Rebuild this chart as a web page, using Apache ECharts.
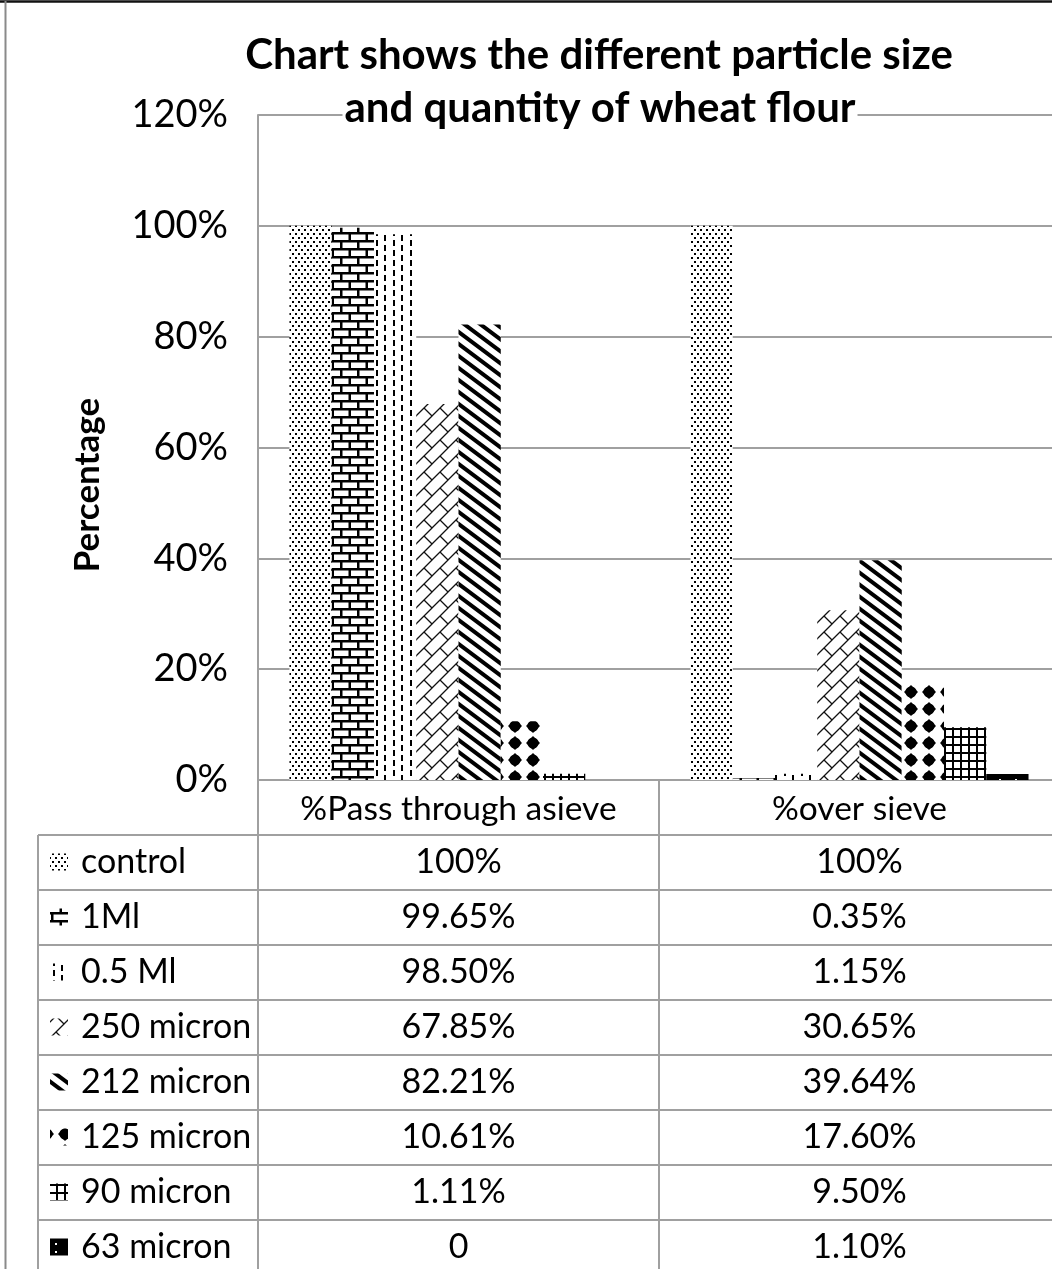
<!DOCTYPE html>
<html>
<head>
<meta charset="utf-8">
<script src="https://cdn.jsdelivr.net/npm/echarts@6/dist/echarts.min.js"></script>
<style>
  html, body { margin: 0; padding: 0; background: #fff; overflow: hidden; }
  #chart { width: 1060px; height: 1269px; }
</style>
</head>
<body>
<div id="chart"></div>
<script>
// ---- data ----
const categories = ['%Pass through asieve', '%over sieve'];
const seriesNames = ['control', '1Ml', '0.5 Ml', '250 micron', '212 micron', '125 micron', '90 micron', '63 micron'];
const passValues = [100, 99.65, 98.50, 67.85, 82.21, 10.61, 1.11, 0];
const overValues = [100, 0.35, 1.15, 30.65, 39.64, 17.60, 9.50, 1.10];
const yTicks = [0, 20, 40, 60, 80, 100, 120];
const titleLines = ['Chart shows the different particle size', 'and quantity of wheat flour'];
const yAxisTitle = 'Percentage';

// ---- layout (the chart area runs a little past the right edge of the page) ----
const FONT = 'Lato';
const CHART_W = 1060, CHART_H = 1269;
const GRID_LEFT = 258, GRID_TOP = 115, GRID_H = 665;
const GRID_W = CHART_W - GRID_LEFT;
const AXIS_Y = GRID_TOP + GRID_H;      // 0% baseline
const HEAD_H = 55, ROW_H = 55;
const TABLE_LEFT = 38;
const LINE_COLOR = '#a0a0a0';

// ---- black & white fill patterns ----
function tile(w, h, draw) {
  const c = document.createElement('canvas');
  c.width = w; c.height = h;
  const g = c.getContext('2d');
  g.fillStyle = '#fff'; g.fillRect(0, 0, w, h);
  g.fillStyle = '#000'; g.strokeStyle = '#000';
  draw(g, w, h);
  return { image: c, repeat: 'repeat' };
}
function diamond(g, cx, cy) {
  g.beginPath();
  g.moveTo(cx, cy - 7); g.lineTo(cx + 7, cy); g.lineTo(cx, cy + 7); g.lineTo(cx - 7, cy); g.closePath();
  g.fill();
  g.beginPath(); g.arc(cx, cy, 5.6, 0, Math.PI * 2); g.fill();
}
const patterns = [
  // dotted
  tile(12, 8, g => { g.fillRect(1, 1, 2, 2); g.fillRect(7, 1, 2, 2); g.fillRect(4, 5, 2, 2); g.fillRect(10, 5, 2, 2); }),
  // horizontal brick
  tile(17, 16, g => { g.fillRect(0, 0, 17, 2.5); g.fillRect(0, 8, 17, 2.5); g.fillRect(0, 0, 2.5, 8); g.fillRect(8.5, 8, 2.5, 8); }),
  // dashed vertical
  tile(17, 20, g => { g.fillRect(2, 0, 2, 6); g.fillRect(2, 10, 2, 6); g.fillRect(10, 5, 2, 6); g.fillRect(10, 15, 2, 5); g.fillRect(10, 0, 2, 1); }),
  // diagonal brick: long rising lines with short ties between them
  tile(16, 16, g => {
    g.lineWidth = 1.3; g.strokeStyle = '#111';
    g.beginPath();
    g.moveTo(-2, 18); g.lineTo(18, -2);
    g.moveTo(-2, 2); g.lineTo(2, -2);
    g.moveTo(14, 18); g.lineTo(18, 14);
    g.moveTo(8, 8); g.lineTo(16, 16);
    g.stroke();
  }),
  // wide downward diagonal
  tile(16, 12, g => {
    g.lineWidth = 4;
    g.beginPath();
    for (let k = -1; k <= 1; k++) { g.moveTo(k * 16 - 4, -3); g.lineTo(k * 16 + 20, 15); }
    g.stroke();
  }),
  // large diamonds
  tile(18, 17, g => {
    [[11, 12], [-7, 12], [11, -5], [-7, -5]].forEach(([x, y]) => diamond(g, x, y));
  }),
  // small grid
  tile(8, 8, g => { g.fillRect(0, 0, 8, 2); g.fillRect(0, 0, 2, 8); }),
  // solid with white dots
  tile(16, 8, g => { g.fillRect(0, 0, 16, 8); g.fillStyle = '#fff'; g.fillRect(7, 3, 2, 2); })
];

function fmt(v) {
  if (v === 0) return '0';
  if (v === 100) return '100%';
  return v.toFixed(2) + '%';
}

// ---- series ----
const series = seriesNames.map((name, i) => ({
  name,
  type: 'bar',
  data: [passValues[i], overValues[i]],
  barGap: '0%',
  barCategoryGap: '15.7%',
  itemStyle: { color: patterns[i] },
  emphasis: { disabled: true }
}));

// ---- data table under the axis ----
const graphics = [];
const lineStyle = { stroke: LINE_COLOR, lineWidth: 2 };
const tableTop = AXIS_Y + HEAD_H;
const tableBottom = CHART_H;
const colCenters = categories.map((c, j) => GRID_LEFT + GRID_W * (j + 0.5) / categories.length);

for (let r = 0; r <= seriesNames.length; r++) {
  const y = tableTop + r * ROW_H;
  graphics.push({ type: 'line', shape: { x1: TABLE_LEFT, y1: y, x2: CHART_W, y2: y }, style: lineStyle, silent: true });
}
graphics.push({ type: 'line', shape: { x1: TABLE_LEFT, y1: tableTop, x2: TABLE_LEFT, y2: tableBottom }, style: lineStyle, silent: true });
graphics.push({ type: 'line', shape: { x1: GRID_LEFT, y1: tableTop, x2: GRID_LEFT, y2: tableBottom }, style: lineStyle, silent: true });
graphics.push({ type: 'line', shape: { x1: GRID_LEFT + GRID_W / 2, y1: tableTop, x2: GRID_LEFT + GRID_W / 2, y2: tableBottom }, style: lineStyle, silent: true });

seriesNames.forEach((name, i) => {
  const cy = tableTop + i * ROW_H + ROW_H / 2;
  graphics.push({ type: 'rect', shape: { x: 50, y: cy - 9, width: 18, height: 17 }, style: { fill: patterns[i] }, silent: true });
  graphics.push({ type: 'text', x: 81, y: cy, style: { text: name, font: `34px ${FONT}`, fill: '#000', textVerticalAlign: 'middle', textAlign: 'left' }, silent: true });
  [passValues[i], overValues[i]].forEach((v, j) => {
    graphics.push({ type: 'text', x: colCenters[j], y: cy, style: { text: fmt(v), font: `34px ${FONT}`, fill: '#000', textVerticalAlign: 'middle', textAlign: 'center' }, silent: true });
  });
});

// title (second line sits on a white box over the top gridline)
graphics.push({ type: 'text', x: 599, y: 55, style: { text: titleLines[0], font: `bold 42px ${FONT}`, fill: '#000', textAlign: 'center', textVerticalAlign: 'middle' }, silent: true, z: 10 });
graphics.push({ type: 'text', x: 600, y: 108, style: { text: titleLines[1], font: `bold 42px ${FONT}`, fill: '#000', textAlign: 'center', textVerticalAlign: 'middle', backgroundColor: '#fff', padding: [0, 2] }, silent: true, z: 10 });
// vertical axis title
graphics.push({ type: 'text', x: 88, y: 485, rotation: Math.PI / 2, style: { text: yAxisTitle, font: `bold 35px ${FONT}`, fill: '#000', textAlign: 'center', textVerticalAlign: 'middle' }, silent: true });
// outer frame
graphics.push({ type: 'line', shape: { x1: 0, y1: 1.5, x2: CHART_W, y2: 1.5 }, style: { stroke: '#111', lineWidth: 2.5 }, silent: true });
graphics.push({ type: 'line', shape: { x1: 5.5, y1: 1, x2: 5.5, y2: CHART_H }, style: { stroke: '#8a8a8a', lineWidth: 2 }, silent: true });

const chart = echarts.init(document.getElementById('chart'), null, { renderer: 'canvas' });
chart.setOption({
  animation: false,
  backgroundColor: '#fff',
  textStyle: { fontFamily: FONT },
  grid: { left: GRID_LEFT, top: GRID_TOP, right: 0, height: GRID_H, containLabel: false },
  xAxis: {
    type: 'category',
    data: categories,
    axisLine: { lineStyle: { color: LINE_COLOR, width: 2 } },
    axisTick: { show: true, interval: 0, length: HEAD_H, lineStyle: { color: LINE_COLOR, width: 2 } },
    axisLabel: { interval: 0, margin: 12, fontSize: 33.5, color: '#000', fontFamily: FONT, hideOverlap: false },
    splitLine: { show: false }
  },
  yAxis: {
    type: 'value',
    min: yTicks[0],
    max: yTicks[yTicks.length - 1],
    interval: yTicks[1] - yTicks[0],
    axisLine: { show: true, lineStyle: { color: LINE_COLOR, width: 2 } },
    axisTick: { show: false },
    axisLabel: { margin: 30, fontSize: 38, color: '#000', fontFamily: FONT, formatter: '{value}%' },
    splitLine: { lineStyle: { color: LINE_COLOR, width: 2 } }
  },
  series,
  graphic: { elements: graphics }
});
</script>
</body>
</html>
